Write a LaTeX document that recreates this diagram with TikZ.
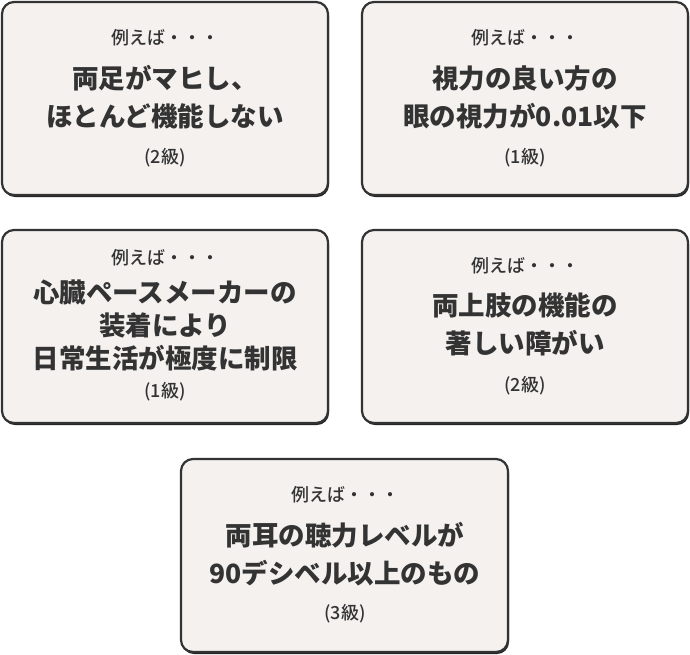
\documentclass[tikz,border=0pt]{standalone}
\usepackage{fontspec}
\setmainfont{Noto Sans CJK JP}
\newfontfamily\medfont{Noto Sans CJK JP Medium}
\definecolor{boxfill}{HTML}{F4F1EF}
\definecolor{boxline}{HTML}{333333}
\begin{document}
\begin{tikzpicture}[x=1pt, y=-1pt,
        card/.style = {draw=boxline, line width=2.2pt, fill=boxfill, rounded corners=12pt},
        cardshadow/.style = {fill=boxline!70!black, rounded corners=12pt},
        small/.style = {font=\medfont\fontsize{18}{22}\selectfont, text=boxline},
        big/.style = {font=\fontsize{26.5}{38}\selectfont\bfseries, text=boxline, align=center}
    ]
    \useasboundingbox (0,0) rectangle (690,654);

    %Karten
    \foreach \xa/\ya/\xb/\yb in {2/2/328/195, 362/2/688/195, 2/230/328/423, 362/230/688/423, 181/459/508/652}{
        \fill[cardshadow] (\xa+1,\ya+2) rectangle (\xb+1,\yb+2);
        \draw[card] (\xa,\ya) rectangle (\xb,\yb);
    }

    %Texte
    \node (ex_a) at (165,38)[small]{例えば・・・};
    \node (main_a) at (165,97)[big]{両足がマヒし、\\ほとんど機能しない};
    \node (rank_a) at (165,158)[small]{(2級)};

    \node (ex_b) at (525,38)[small]{例えば・・・};
    \node (main_b) at (525,97)[big]{視力の良い方の\\眼の視力が0.01以下};
    \node (rank_b) at (525,158)[small]{(1級)};

    \node (ex_c) at (165,258)[small]{例えば・・・};
    \node (main_c) at (165,325)[big, font=\fontsize{26.5}{33}\selectfont\bfseries]{心臓ペースメーカーの\\装着により\\日常生活が極度に制限};
    \node (rank_c) at (165,392)[small]{(1級)};

    \node (ex_d) at (525,266)[small]{例えば・・・};
    \node (main_d) at (525,324)[big]{両上肢の機能の\\著しい障がい};
    \node (rank_d) at (525,386)[small]{(2級)};

    \node (ex_e) at (345,495)[small]{例えば・・・};
    \node (main_e) at (345,554)[big]{両耳の聴力レベルが\\90デシベル以上のもの};
    \node (rank_e) at (345,614)[small]{(3級)};
\end{tikzpicture}
\end{document}
